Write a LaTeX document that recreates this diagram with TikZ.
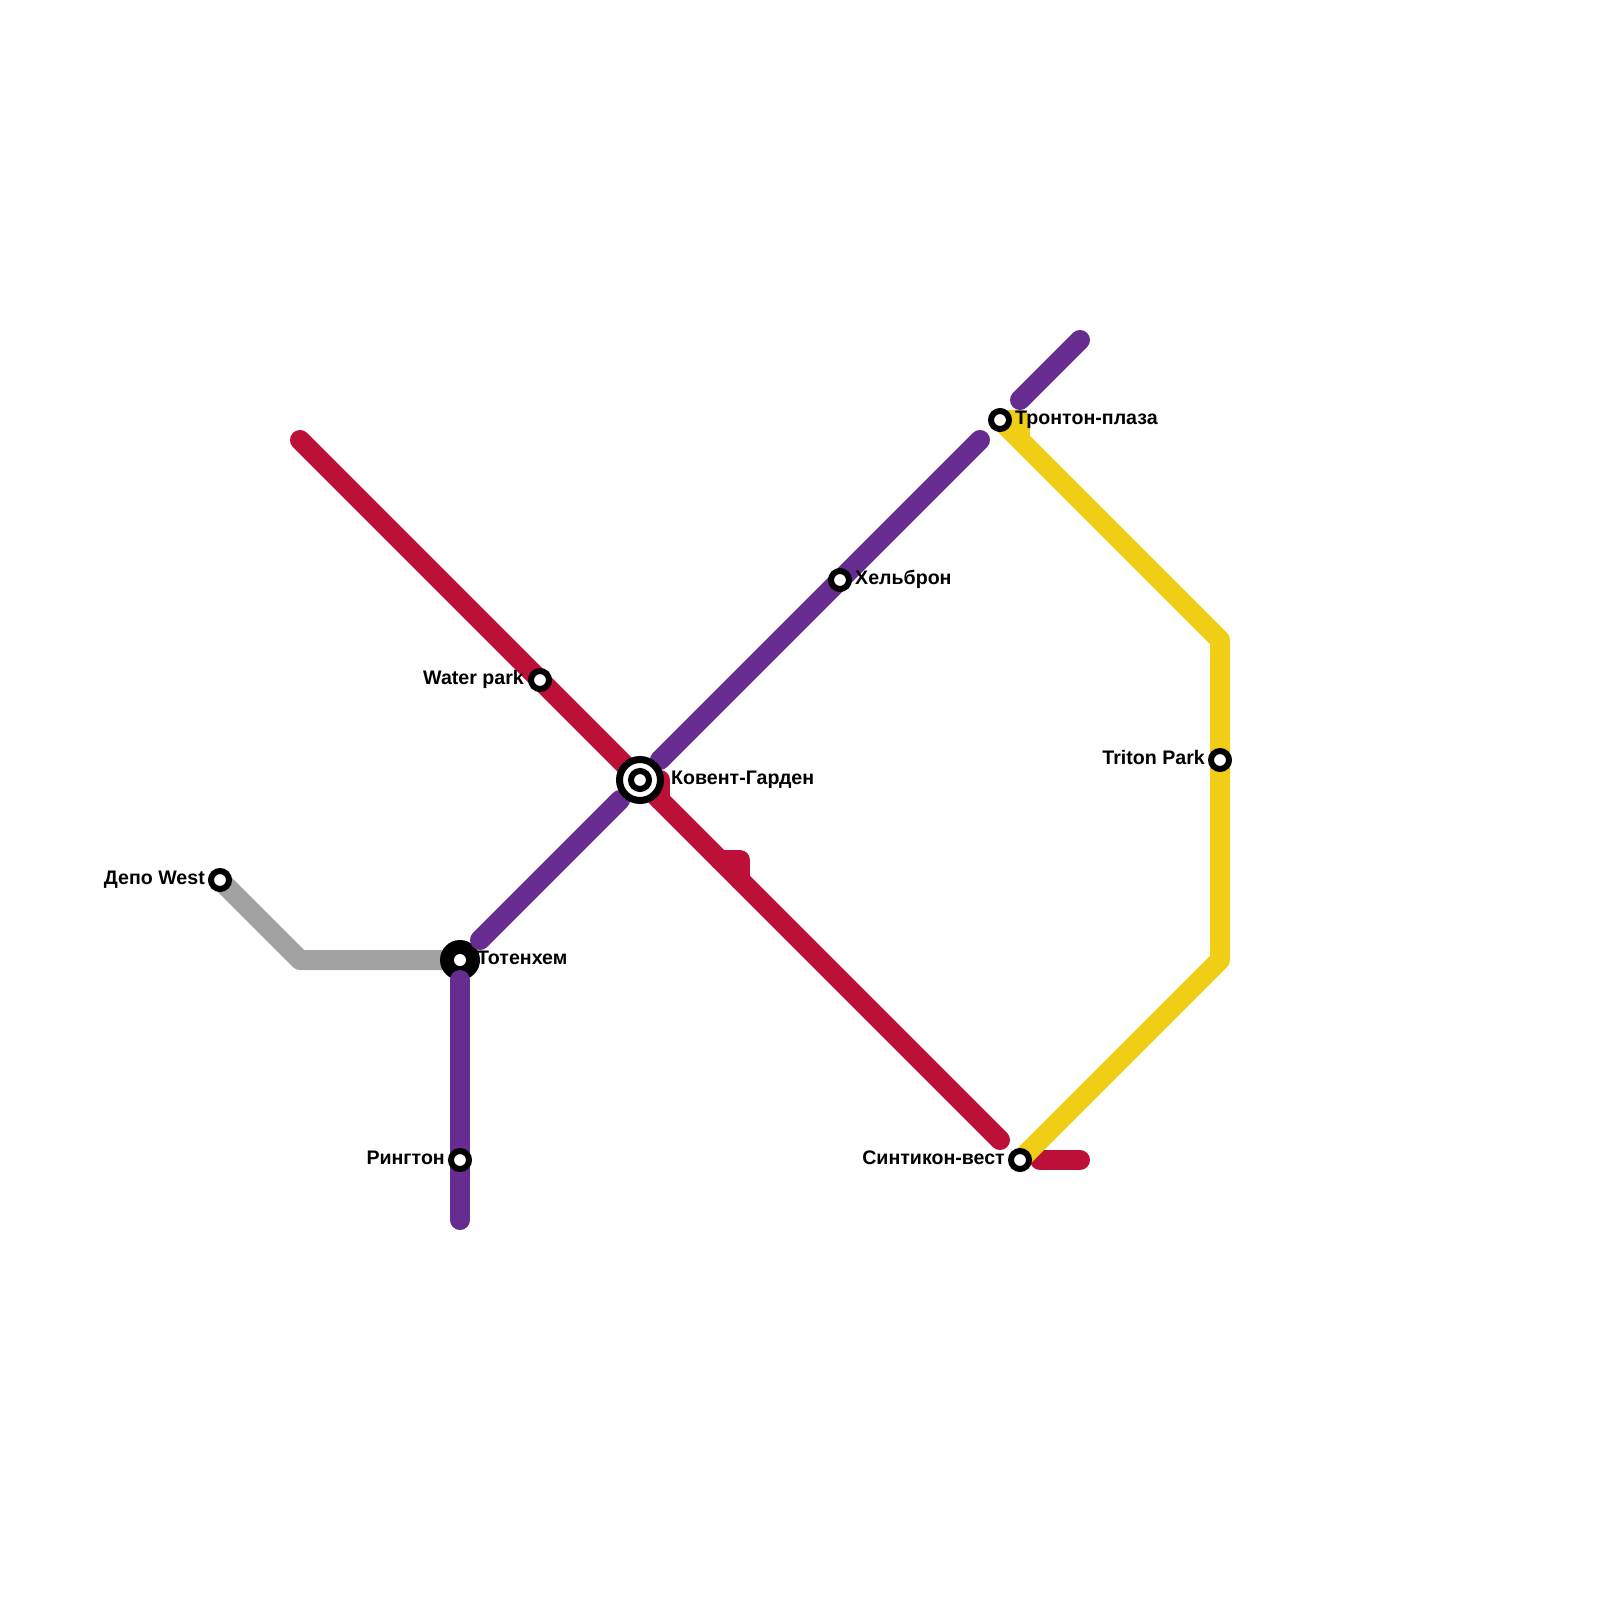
\documentclass[tikz,border=0pt]{standalone}
\usepackage{fontspec}
\setmainfont{Liberation Sans}
\definecolor{redl}{HTML}{BD1038}
\definecolor{purl}{HTML}{662C90}
\definecolor{yell}{HTML}{F0CE15}
\definecolor{gryl}{HTML}{A2A2A2}
\tikzset{
  route/.style={line width=20pt,line cap=round,line join=round},
  ringst/.style={circle,fill=white,draw=black,line width=6pt,minimum size=18pt,inner sep=0pt},
  dotst/.style={circle,fill=white,minimum size=12pt,inner sep=0pt},
  lbl/.style={inner sep=0pt,font=\fontsize{19.6pt}{22pt}\selectfont\bfseries},
}
\begin{document}
\begin{tikzpicture}[x=1pt,y=-1pt]
\useasboundingbox (0,0) rectangle (1600,1600);
\coordinate (depo) at (220,880);
\coordinate (gb) at (300,960);
\coordinate (tot) at (460,960);
\coordinate (cov) at (640,780);
\coordinate (wat) at (540,680);
\coordinate (hel) at (840,580);
\coordinate (tro) at (1000,420);
\coordinate (rin) at (460,1160);
\coordinate (syn) at (1020,1160);
\coordinate (tri) at (1220,760);
% grey
\draw[route,gryl,line cap=butt] (depo) -- (gb) -- (tot);
\fill[black] (tot) circle (20pt);
% red
\coordinate (ra) at (300,440);
\coordinate (rc) at (660,780);
\coordinate (rd) at (1000,1140);
\coordinate (re) at (1040,1160);
\coordinate (rf) at (1080,1160);
\draw[route,redl] (ra) -- (rd);
\draw[route,redl] (rc) -- (660,800);
\draw[route,redl] (720,860) -- (740,860) -- (740,880);
\draw[route,redl] (re) -- (rf);
% yellow
\draw[route,yell,line cap=butt] (tro) -- (1020,420) -- (1020,440);
\draw[route,yell,line cap=butt] (tro) -- (1220,640) -- (1220,960) -- (syn);
% purple
\coordinate (pa) at (460,1220);
\coordinate (pb) at (460,980);
\coordinate (pc) at (480,940);
\coordinate (pd) at (620,800);
\coordinate (pe) at (660,760);
\coordinate (pf) at (980,440);
\coordinate (pg) at (1020,400);
\coordinate (ph) at (1080,340);
\draw[route,purl] (pa) -- (pb);
\draw[route,purl] (pc) -- (pd);
\draw[route,purl] (pe) -- (pf);
\draw[route,purl] (pg) -- (ph);
% stations
\node[dotst] (ntot) at (tot) {};
\node[circle,fill=white,draw=black,line width=7pt,minimum size=41pt,inner sep=0pt] (ncovo) at (cov) {};
\node[ringst] (ncov) at (cov) {};
\node[ringst] (ndepo) at (depo) {};
\node[ringst] (nwat) at (wat) {};
\node[ringst] (nhel) at (hel) {};
\node[ringst] (ntro) at (tro) {};
\node[ringst] (nrin) at (rin) {};
\node[ringst] (nsyn) at (syn) {};
\node[ringst] (ntri) at (tri) {};
% labels
\node[lbl,anchor=base west] (l1) at (671,784) {Ковент-Гарден};
\node[lbl,anchor=base west] (l2) at (477,964) {Тотенхем};
\node[lbl,anchor=base west] (l3) at (855,584) {Хельброн};
\node[lbl,anchor=base west] (l4) at (1015,424) {Тронтон-плаза};
\node[lbl,anchor=base east] (l5) at (524,684) {Water park};
\node[lbl,anchor=base east] (l6) at (205,884) {Депо West};
\node[lbl,anchor=base east] (l7) at (445,1164) {Рингтон};
\node[lbl,anchor=base east] (l8) at (1005,1164) {Синтикон-вест};
\node[lbl,anchor=base east] (l9) at (1205,764) {Triton Park};
\end{tikzpicture}
\end{document}
